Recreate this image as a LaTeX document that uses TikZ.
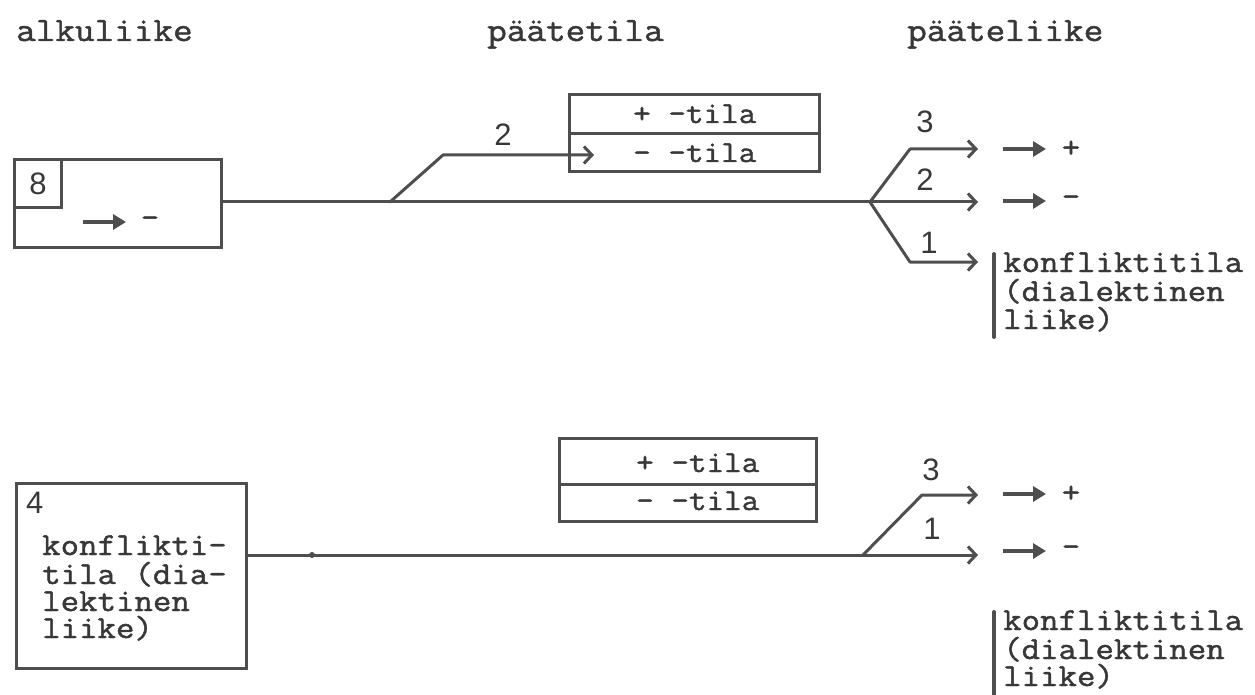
\documentclass[tikz,border=0pt]{standalone}
\usepackage{fontspec}
\setmainfont{Liberation Serif}
\newfontfamily\tw[FakeBold=1.4,FakeStretch=1.12]{Latin Modern Mono}
\newfontfamily\hw{Liberation Sans}
\usetikzlibrary{arrows.meta,calc}
\definecolor{ink}{HTML}{4E4E4E}
\definecolor{txtc}{HTML}{383838}
\begin{document}
\begin{tikzpicture}[x=1pt,y=-1pt,
  ln/.style={draw=ink,line width=3pt,line join=round,line cap=round},
  arr/.style={ln,-{Straight Barb[length=8pt,width=17pt,line width=3pt]}},
  glyph/.style={draw=ink,line width=4pt,-{Triangle[length=13pt,width=15pt]}},
  tt/.style={font=\tw\fontsize{32}{32}\selectfont,text=txtc,inner sep=0pt},
  tl/.style={tt,anchor=base west},
  num/.style={font=\hw\fontsize{31}{31}\selectfont,text=txtc,inner sep=0pt},
  box/.style={draw=ink,line width=3pt,inner sep=0pt},
  bar/.style={draw=ink,line width=4pt,line cap=round}]
\useasboundingbox (0,0) rectangle (1255,695);
% headers
\node[tl,font=\tw\fontsize{34}{34}\selectfont] (h1) at (16,41) {alkuliike};
\node[tl,font=\tw\fontsize{34}{34}\selectfont] (h2) at (487,41) {päätetila};
\node[tl,font=\tw\fontsize{34}{34}\selectfont] (h3) at (907,41) {pääteliike};
% ---------- top block ----------
\node[box,anchor=north west,minimum width=207pt,minimum height=88pt] (b8) at (13,158) {};
\node[box,anchor=north west,minimum width=47pt,minimum height=48pt,num] (b8n) at (13,158) {8};
\draw[glyph] (83,222) -- (126,222);
\node[tt] (b8m) at (150,222) {-};
\node[box,anchor=north west,minimum width=250pt,minimum height=39pt] (pp1) at (568,93) {};
\node[box,anchor=north west,minimum width=250pt,minimum height=38pt] (pm1) at (568,132) {};
\node[tl,font=\tw\fontsize{30.5}{30}\selectfont] (pp1t) at (633,123) {+ -tila};
\node[tl,font=\tw\fontsize{30.5}{30}\selectfont] (pm1t) at (633,162) {- -tila};
\coordinate (k1) at (390,202);
\coordinate (k1u) at (443,155);
\coordinate (j1) at (870,202);
\coordinate (j1u) at (910,149);
\coordinate (j1d) at (910,262);
\coordinate (t1a) at (978,149);
\coordinate (t1b) at (978,202);
\coordinate (t1c) at (978,262);
\draw[ln] (b8.east |- j1) -- (j1);
\draw[arr] (k1) -- (k1u) -- ($(pm1.west |- k1u)+(26,0)$);
\node[num] (l2a) at (503,135) {2};
\draw[arr] (j1) -- (j1u) -- (t1a);
\draw[arr] (j1) -- (t1b);
\draw[arr] (j1) -- (j1d) -- (t1c);
\node[num] (l3a) at (925,122) {3};
\node[num] (l2b) at (925,180) {2};
\node[num] (l1a) at (929,243) {1};
\draw[glyph] (1003,149) -- (1046,149);
\node[tt] (o1p) at (1071,149) {+};
\draw[glyph] (1003,201) -- (1046,201);
\node[tt] (o1m) at (1071,201) {-};
\node[tl] (c1a) at (1003,272) {konfliktitila};
\node[tl] (c1b) at (1003,301) {(dialektinen};
\node[tl] (c1c) at (1003,329) {liike)};
\draw[bar] (994,254) -- (994,337);
% ---------- bottom block ----------
\node[box,anchor=north west,minimum width=230pt,minimum height=185pt] (b4) at (15,482) {};
\node[num,anchor=west] (b4n) at (26,503) {4};
\node[tl] (b4a) at (42,555) {konflikti-};
\node[tl] (b4b) at (42,584) {tila (dia-};
\node[tl] (b4c) at (42,611) {lektinen};
\node[tl] (b4d) at (42,638) {liike)};
\node[box,anchor=north west,minimum width=257pt,minimum height=46pt] (pp2) at (558,437) {};
\node[box,anchor=north west,minimum width=257pt,minimum height=37pt] (pm2) at (558,483) {};
\node[tl,font=\tw\fontsize{30.5}{30}\selectfont] (pp2t) at (636,472) {+ -tila};
\node[tl,font=\tw\fontsize{30.5}{30}\selectfont] (pm2t) at (636,510) {- -tila};
\coordinate (j2) at (863,555);
\coordinate (j2u) at (922,495);
\coordinate (t2a) at (978,495);
\coordinate (t2b) at (978,555);
\draw[ln] (b4.east |- j2) -- (j2);
\fill[ink] (312,555) circle (3pt);
\draw[arr] (j2) -- (j2u) -- (t2a);
\draw[arr] (j2) -- (t2b);
\node[num] (l3b) at (931,470) {3};
\node[num] (l1b) at (932,529) {1};
\draw[glyph] (1003,494) -- (1046,494);
\node[tt] (o2p) at (1071,494) {+};
\draw[glyph] (1003,551) -- (1046,551);
\node[tt] (o2m) at (1071,551) {-};
\node[tl] (c2a) at (1003,630) {konfliktitila};
\node[tl] (c2b) at (1003,659) {(dialektinen};
\node[tl] (c2c) at (1003,686) {liike)};
\draw[bar] (994,612) -- (994,700);
\end{tikzpicture}
\end{document}
